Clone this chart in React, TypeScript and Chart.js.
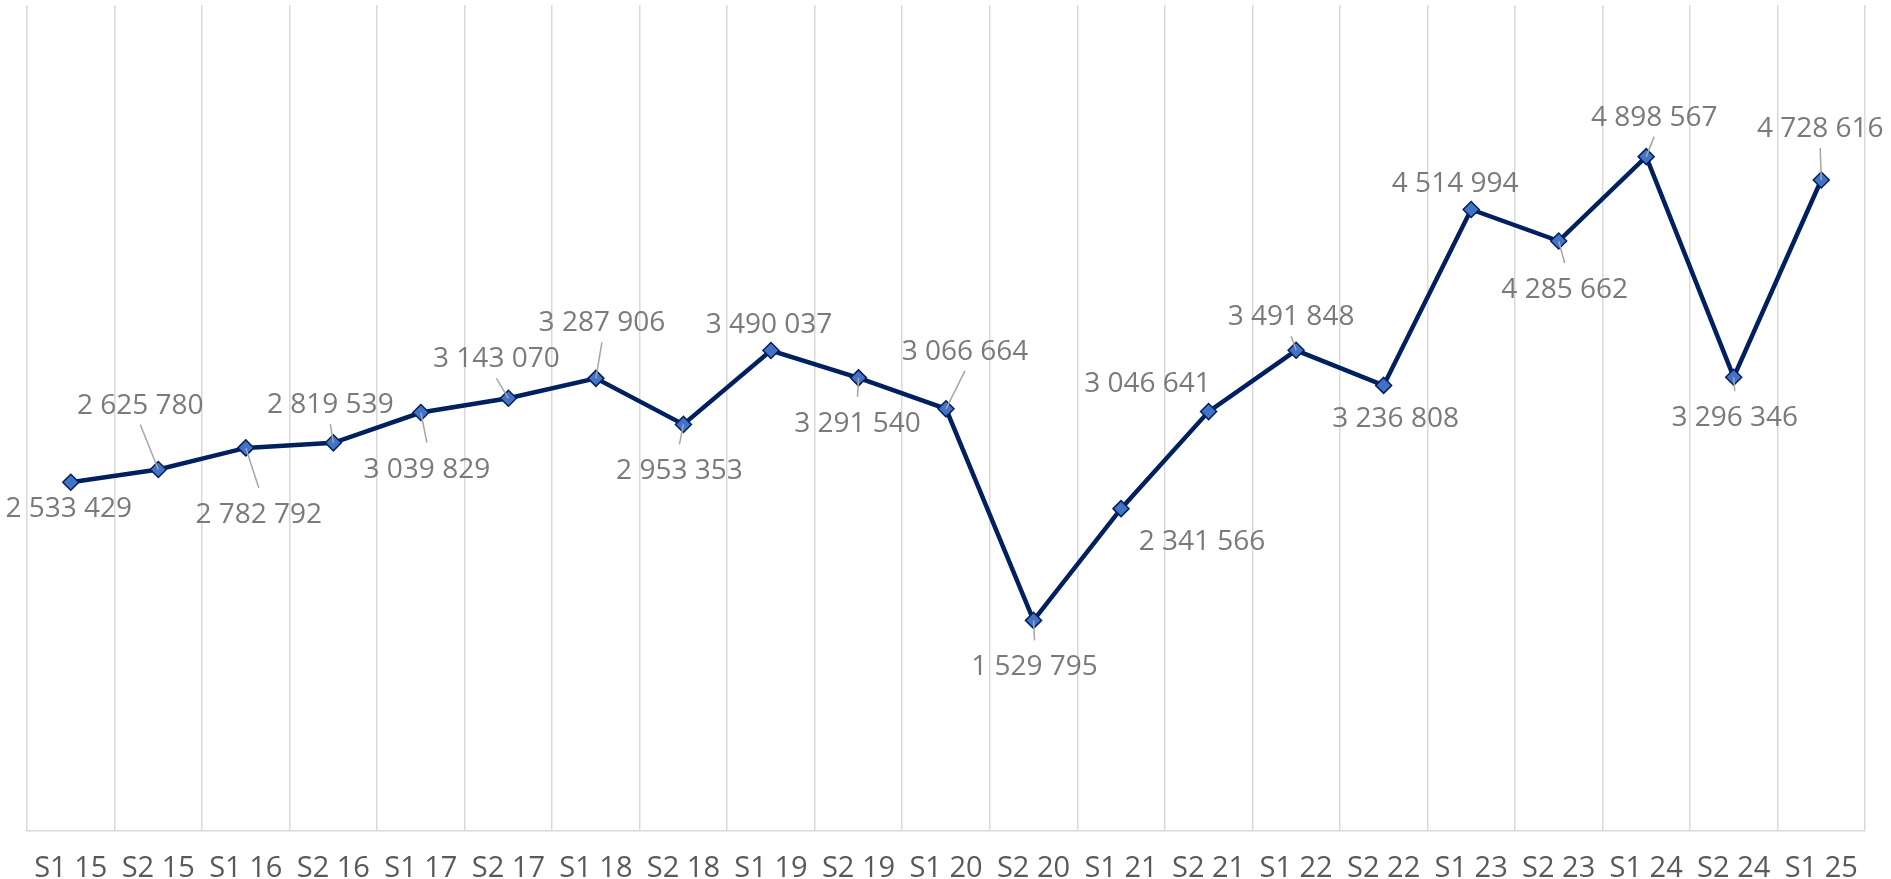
import React, { useEffect, useRef } from "react";
import { Chart, registerables } from "chart.js";

Chart.register(...registerables);

const categories = [
  "S1 15", "S2 15", "S1 16", "S2 16", "S1 17", "S2 17", "S1 18", "S2 18",
  "S1 19", "S2 19", "S1 20", "S2 20", "S1 21", "S2 21", "S1 22", "S2 22",
  "S1 23", "S2 23", "S1 24", "S2 24", "S1 25",
];

const values = [
  2533429, 2625780, 2782792, 2819539, 3039829, 3143070, 3287906, 2953353,
  3490037, 3291540, 3066664, 1529795, 2341566, 3046641, 3491848, 3236808,
  4514994, 4285662, 4898567, 3296346, 4728616,
];

const yMin = 0;
const yMax = 6000000;

// label placement relative to each point (px), styling only
const labelOffsets: [number, number][] = [
  [-2, 25], [-18, -66], [13, 65], [-3, -40], [6, 55], [-12, -41], [6, -57],
  [-4, 45], [-2, -28], [-1, 44], [19, -59], [1, 45], [81, 31], [-61, -30],
  [-5, -35], [12, 32], [-16, -27], [6, 47], [8, -41], [1, 39], [-1, -53],
];

const leaderLines = [
  false, true, true, true, true, true, true, true, false, true, true,
  true, false, false, true, false, false, true, true, true, true,
];

const FONT = '"Open Sans", "DejaVu Sans", sans-serif';

function fmt(v: number): string {
  return String(v).replace(/\B(?=(\d{3})+(?!\d))/g, " ");
}

const labelPlugin = {
  id: "pointLabels",
  afterDatasetsDraw(chart: any) {
    const ctx = chart.ctx as CanvasRenderingContext2D;
    const meta = chart.getDatasetMeta(0);
    ctx.save();
    meta.data.forEach((pt: any, i: number) => {
      const [dx, dy] = labelOffsets[i];
      const lx = pt.x + dx;
      const ly = pt.y + dy;
      if (leaderLines[i]) {
        const sy = dy < 0 ? ly + 21 : ly - 25;
        ctx.beginPath();
        ctx.strokeStyle = "#a6a6a6";
        ctx.lineWidth = 1.5;
        ctx.moveTo(lx, sy);
        ctx.lineTo(pt.x, pt.y);
        ctx.stroke();
      }
      ctx.font = `28px ${FONT}`;
      ctx.fillStyle = "#7a7a7a";
      ctx.textAlign = "center";
      ctx.textBaseline = "alphabetic";
      ctx.fillText(fmt(values[i]), lx, ly + 10);
    });
    ctx.restore();
  },
};

export default function App() {
  const ref = useRef<HTMLCanvasElement | null>(null);

  useEffect(() => {
    if (!ref.current) return;
    const chart = new Chart(ref.current, {
      type: "line",
      data: {
        labels: categories,
        datasets: [
          {
            data: values,
            borderColor: "#002060",
            borderWidth: 4.5,
            pointStyle: "rectRot",
            pointRadius: 8,
            pointBackgroundColor: "#4472C4",
            pointBorderColor: "#002060",
            pointBorderWidth: 1.5,
            tension: 0,
            fill: false,
          },
        ],
      },
      options: {
        animation: false,
        responsive: false,
        devicePixelRatio: 1,
        layout: { autoPadding: false, padding: { left: 27, right: 26, top: 5, bottom: 0 } },
        plugins: {
          legend: { display: false },
          tooltip: { enabled: false },
        },
        scales: {
          x: {
            offset: true,
            grid: {
              offset: true,
              color: "#d9d9d9",
              lineWidth: 1.5,
              drawTicks: false,
            },
            border: { color: "#d9d9d9", width: 1.5 },
            ticks: {
              autoSkip: false,
              maxRotation: 0,
              minRotation: 0,
              padding: 20,
              color: "#595959",
              font: { family: FONT, size: 29 },
            },
            afterFit(scale: any) {
              scale.height = 48;
            },
          },
          y: {
            display: false,
            min: yMin,
            max: yMax,
          },
        },
      },
      plugins: [labelPlugin],
    });
    if ((document as any).fonts && (document as any).fonts.ready) {
      (document as any).fonts.ready.then(() => chart.update());
    }
    return () => chart.destroy();
  }, []);

  return (
    <div style={{ position: "fixed", left: 0, top: 0, width: 1891, height: 879, background: "#fff" }}>
      <canvas ref={ref} width={1891} height={879} style={{ display: "block" }} />
    </div>
  );
}
